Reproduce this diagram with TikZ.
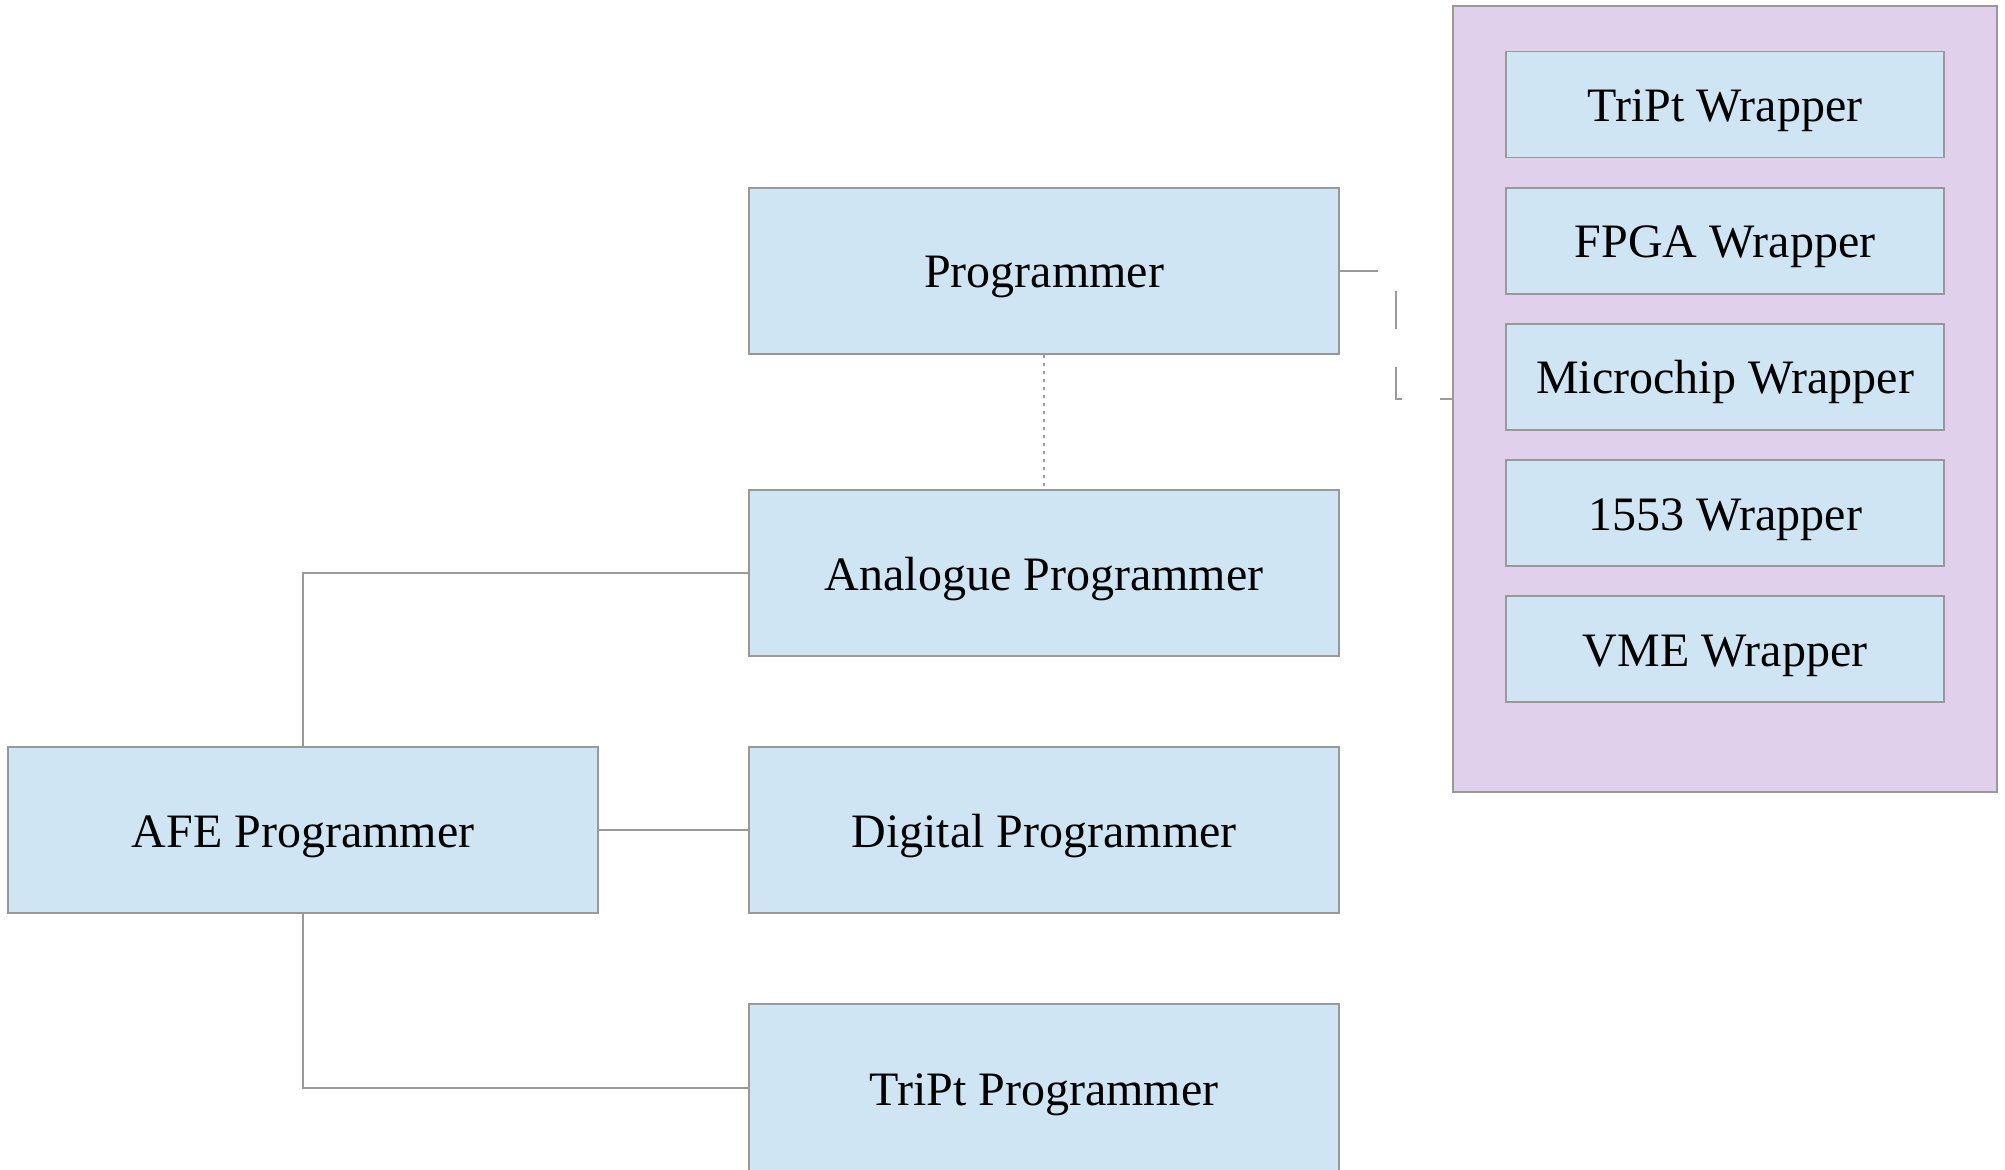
\documentclass[tikz,border=0pt]{standalone}
\usepackage{fontspec}
\setmainfont{Liberation Serif}
\usetikzlibrary{calc}
\definecolor{boxfill}{HTML}{CFE5F3}
\definecolor{contfill}{HTML}{E0D0EC}
\definecolor{edgegrey}{HTML}{999999}
\definecolor{linegrey}{HTML}{9A9A9A}
\tikzset{
  boxtext/.style={font=\fontsize{24}{28}\selectfont, text height=17pt, text depth=0pt},
  bluebox/.style={draw=edgegrey, line width=0.7pt, fill=boxfill, minimum width=295pt, minimum height=83pt, inner sep=0pt, boxtext},
  wrapbox/.style={draw=edgegrey, line width=0.7pt, fill=boxfill, minimum width=219pt, minimum height=53pt, inner sep=0pt, boxtext},
  contbox/.style={draw=edgegrey, line width=0.8pt, fill=contfill, minimum width=272pt, minimum height=393pt, inner sep=0pt},
  conn/.style={draw=linegrey, line width=0.6pt},
  longdash/.style={conn, dash pattern=on 19pt off 19pt},
  shortdash/.style={conn, dash pattern=on 1.8pt off 2.2pt}
}
\begin{document}
\begin{tikzpicture}[x=0.5pt, y=-0.5pt]
\useasboundingbox (0,0) rectangle (2005,1170);
% container
\node[contbox] (cont) at (1725,399) {};
\node[wrapbox] (w1) at (1725,104.5) {TriPt Wrapper};
\node[wrapbox] (w2) at (1725,241) {FPGA Wrapper};
\node[wrapbox] (w3) at (1725,377) {Microchip Wrapper};
\node[wrapbox] (w4) at (1725,513) {1553 Wrapper};
\node[wrapbox] (w5) at (1725,649) {VME Wrapper};
% main boxes
\node[bluebox] (prog) at (1044,271) {Programmer};
\node[bluebox] (ana) at (1044,573) {Analogue Programmer};
\node[bluebox] (dig) at (1044,830) {Digital Programmer};
\node[bluebox, minimum height=84pt] (tri) at (1044,1088) {TriPt Programmer};
\node[bluebox] (afe) at (303,830) {AFE Programmer};
% connectors
\draw[shortdash] (prog.south) -- (ana.north);
\draw[longdash] (prog.east) -| ($(prog.east)!0.5!(cont.west)$) |- (cont.west);
\draw[conn] (ana.west) -| (afe.north);
\draw[conn] (afe.east) -- (dig.west);
\draw[conn] (afe.south) |- (tri.west);
\end{tikzpicture}
\end{document}
